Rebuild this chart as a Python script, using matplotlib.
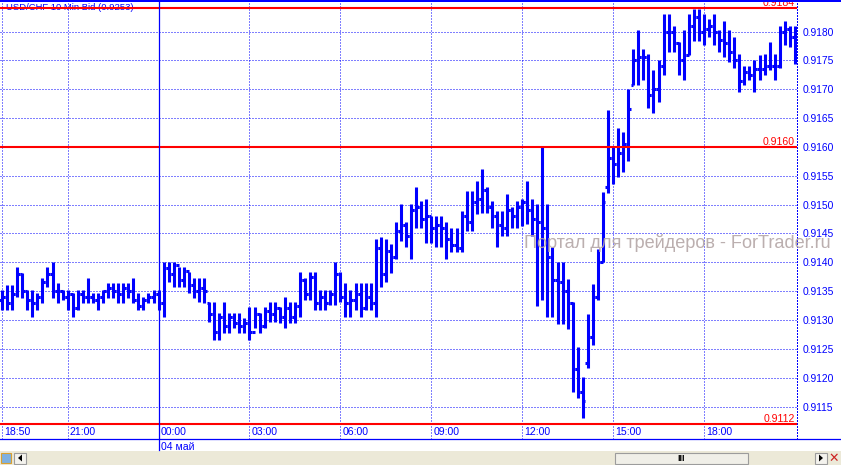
import matplotlib
matplotlib.use("Agg")
import matplotlib.pyplot as plt
from matplotlib.patches import Rectangle, Polygon
from matplotlib.lines import Line2D

plt.rcParams['font.family'] = ['Liberation Sans', 'DejaVu Sans']

# ---------------- data (10-minute OHLC bars, 18:50 .. 21:00 next day) -------------
opens = [
    0.91335, 0.91340, 0.91330, 0.91345, 0.91380, 0.91350, 0.91335, 0.91330, 0.91340, 0.91365,
    0.91380, 0.91350, 0.91350, 0.91340, 0.91345, 0.91320, 0.91345, 0.91340, 0.91340, 0.91335,
    0.91340, 0.91350, 0.91355, 0.91350, 0.91345, 0.91355, 0.91350, 0.91335, 0.91325, 0.91335,
    0.91340, 0.91345, 0.91330, 0.91390, 0.91380, 0.91395, 0.91370, 0.91385, 0.91360, 0.91350,
    0.91355, 0.91330, 0.91310, 0.91280, 0.91305, 0.91290, 0.91305, 0.91295, 0.91290, 0.91295,
    0.91280, 0.91310, 0.91290, 0.91315, 0.91310, 0.91320, 0.91305, 0.91320, 0.91305, 0.91325,
    0.91370, 0.91345, 0.91375, 0.91330, 0.91340, 0.91330, 0.91345, 0.91380, 0.91340, 0.91330,
    0.91335, 0.91345, 0.91320, 0.91340, 0.91330, 0.91425, 0.91380, 0.91420, 0.91410, 0.91455,
    0.91465, 0.91445, 0.91490, 0.91495, 0.91475, 0.91480, 0.91460, 0.91465, 0.91460, 0.91440,
    0.91430, 0.91425, 0.91480, 0.91470, 0.91505, 0.91510, 0.91525, 0.91495, 0.91480, 0.91465,
    0.91460, 0.91490, 0.91480, 0.91495, 0.91505, 0.91490, 0.91475, 0.91470, 0.91460, 0.91410,
    0.91370, 0.91365, 0.91350, 0.91330, 0.91215, 0.91175, 0.91225, 0.91270, 0.91340, 0.91400,
    0.91530, 0.91580, 0.91570, 0.91590, 0.91605, 0.91707, 0.91750, 0.91755, 0.91755, 0.91690,
    0.91700, 0.91740, 0.91800, 0.91800, 0.91780, 0.91750, 0.91760, 0.91810, 0.91825, 0.91800,
    0.91805, 0.91810, 0.91800, 0.91785, 0.91780, 0.91765, 0.91750, 0.91715, 0.91730, 0.91725,
    0.91735, 0.91735, 0.91740, 0.91740, 0.91740, 0.91800, 0.91805, 0.91790,
]
highs = [
    0.91352, 0.91361, 0.91361, 0.91392, 0.91381, 0.91352, 0.91352, 0.91346, 0.91372, 0.91392,
    0.91401, 0.91364, 0.91352, 0.91352, 0.91346, 0.91352, 0.91352, 0.91372, 0.91346, 0.91346,
    0.91352, 0.91364, 0.91364, 0.91364, 0.91364, 0.91364, 0.91372, 0.91346, 0.91340, 0.91346,
    0.91352, 0.91352, 0.91401, 0.91401, 0.91401, 0.91392, 0.91392, 0.91384, 0.91372, 0.91372,
    0.91372, 0.91332, 0.91332, 0.91312, 0.91332, 0.91312, 0.91312, 0.91312, 0.91303, 0.91323,
    0.91323, 0.91312, 0.91323, 0.91332, 0.91332, 0.91323, 0.91340, 0.91332, 0.91332, 0.91384,
    0.91372, 0.91384, 0.91384, 0.91352, 0.91352, 0.91352, 0.91401, 0.91384, 0.91364, 0.91352,
    0.91364, 0.91364, 0.91364, 0.91364, 0.91440, 0.91443, 0.91440, 0.91432, 0.91469, 0.91501,
    0.91469, 0.91501, 0.91530, 0.91507, 0.91510, 0.91481, 0.91481, 0.91481, 0.91469, 0.91460,
    0.91460, 0.91489, 0.91524, 0.91524, 0.91541, 0.91562, 0.91530, 0.91507, 0.91489, 0.91489,
    0.91518, 0.91495, 0.91507, 0.91510, 0.91541, 0.91510, 0.91501, 0.91602, 0.91501, 0.91426,
    0.91400, 0.91400, 0.91371, 0.91331, 0.91253, 0.91201, 0.91311, 0.91363, 0.91423, 0.91521,
    0.91664, 0.91600, 0.91632, 0.91625, 0.91701, 0.91770, 0.91802, 0.91770, 0.91761, 0.91733,
    0.91750, 0.91830, 0.91830, 0.91810, 0.91782, 0.91802, 0.91830, 0.91839, 0.91839, 0.91830,
    0.91822, 0.91830, 0.91802, 0.91819, 0.91802, 0.91790, 0.91761, 0.91741, 0.91741, 0.91750,
    0.91759, 0.91761, 0.91782, 0.91761, 0.91810, 0.91819, 0.91810, 0.91810,
]
lows = [
    0.91317, 0.91317, 0.91317, 0.91340, 0.91338, 0.91317, 0.91306, 0.91317, 0.91329, 0.91358,
    0.91338, 0.91329, 0.91335, 0.91317, 0.91306, 0.91317, 0.91329, 0.91329, 0.91329, 0.91317,
    0.91329, 0.91338, 0.91338, 0.91329, 0.91329, 0.91338, 0.91329, 0.91317, 0.91317, 0.91329,
    0.91329, 0.91317, 0.91306, 0.91366, 0.91358, 0.91358, 0.91358, 0.91346, 0.91338, 0.91332,
    0.91329, 0.91297, 0.91265, 0.91265, 0.91277, 0.91277, 0.91286, 0.91277, 0.91277, 0.91265,
    0.91286, 0.91277, 0.91286, 0.91297, 0.91297, 0.91294, 0.91286, 0.91294, 0.91294, 0.91306,
    0.91335, 0.91335, 0.91317, 0.91317, 0.91317, 0.91326, 0.91326, 0.91332, 0.91306, 0.91306,
    0.91317, 0.91306, 0.91317, 0.91317, 0.91306, 0.91358, 0.91366, 0.91381, 0.91405, 0.91437,
    0.91426, 0.91405, 0.91460, 0.91460, 0.91434, 0.91434, 0.91426, 0.91426, 0.91405, 0.91417,
    0.91417, 0.91417, 0.91455, 0.91455, 0.91484, 0.91486, 0.91486, 0.91460, 0.91426, 0.91446,
    0.91446, 0.91460, 0.91460, 0.91463, 0.91466, 0.91446, 0.91325, 0.91334, 0.91305, 0.91305,
    0.91293, 0.91293, 0.91285, 0.91175, 0.91164, 0.91130, 0.91216, 0.91256, 0.91334, 0.91400,
    0.91520, 0.91535, 0.91547, 0.91556, 0.91576, 0.91707, 0.91707, 0.91716, 0.91667, 0.91658,
    0.91678, 0.91724, 0.91764, 0.91764, 0.91724, 0.91716, 0.91759, 0.91784, 0.91784, 0.91776,
    0.91790, 0.91776, 0.91764, 0.91756, 0.91747, 0.91736, 0.91695, 0.91707, 0.91716, 0.91695,
    0.91716, 0.91724, 0.91733, 0.91716, 0.91736, 0.91776, 0.91773, 0.91744,
]
closes = [
    0.91340, 0.91330, 0.91345, 0.91380, 0.91350, 0.91335, 0.91330, 0.91340, 0.91365, 0.91380,
    0.91350, 0.91350, 0.91340, 0.91345, 0.91320, 0.91345, 0.91340, 0.91340, 0.91335, 0.91340,
    0.91350, 0.91355, 0.91350, 0.91345, 0.91355, 0.91350, 0.91335, 0.91325, 0.91335, 0.91340,
    0.91345, 0.91330, 0.91390, 0.91380, 0.91395, 0.91370, 0.91385, 0.91360, 0.91350, 0.91355,
    0.91350, 0.91310, 0.91280, 0.91305, 0.91290, 0.91305, 0.91295, 0.91290, 0.91295, 0.91280,
    0.91310, 0.91290, 0.91315, 0.91310, 0.91320, 0.91305, 0.91320, 0.91305, 0.91325, 0.91370,
    0.91345, 0.91375, 0.91330, 0.91340, 0.91330, 0.91345, 0.91380, 0.91340, 0.91330, 0.91335,
    0.91345, 0.91320, 0.91340, 0.91330, 0.91425, 0.91380, 0.91420, 0.91410, 0.91455, 0.91465,
    0.91445, 0.91490, 0.91495, 0.91475, 0.91480, 0.91460, 0.91465, 0.91460, 0.91440, 0.91430,
    0.91425, 0.91480, 0.91470, 0.91505, 0.91510, 0.91525, 0.91495, 0.91480, 0.91465, 0.91460,
    0.91490, 0.91480, 0.91495, 0.91505, 0.91490, 0.91475, 0.91470, 0.91460, 0.91410, 0.91370,
    0.91365, 0.91350, 0.91330, 0.91215, 0.91175, 0.91160, 0.91270, 0.91340, 0.91400, 0.91505,
    0.91580, 0.91570, 0.91590, 0.91605, 0.91665, 0.91750, 0.91755, 0.91755, 0.91690, 0.91700,
    0.91740, 0.91800, 0.91800, 0.91780, 0.91750, 0.91760, 0.91810, 0.91825, 0.91800, 0.91805,
    0.91810, 0.91800, 0.91785, 0.91780, 0.91765, 0.91750, 0.91715, 0.91730, 0.91725, 0.91735,
    0.91735, 0.91740, 0.91740, 0.91740, 0.91800, 0.91805, 0.91790, 0.91805,
]

price_ticks = [0.9115, 0.9120, 0.9125, 0.9130, 0.9135, 0.9140, 0.9145, 0.9150,
               0.9155, 0.9160, 0.9165, 0.9170, 0.9175, 0.9180]
price_tick_labels = ["0.9115", "0.9120", "0.9125", "0.9130", "0.9135", "0.9140", "0.9145",
                     "0.9150", "0.9155", "0.9160", "0.9165", "0.9170", "0.9175", "0.9180"]
time_labels = ["18:50", "21:00", "00:00", "03:00", "06:00", "09:00", "12:00", "15:00", "18:00"]
time_label_bars = [0, 13, 31, 49, 67, 85, 103, 121, 139]
day_separator_bar = 31
date_label = "04 май"
level_prices = [0.9184, 0.9160, 0.9112]
level_labels = ["0.9184", "0.9160", "0.9112"]
title = "USD/CHF 10 Min Bid (0.9253)"
watermark = "Портал для трейдеров - ForTrader.ru"

# ---------------- layout ----------------
W, H = 841, 465
BLUE = "#0000ff"
RED = "#ff0000"
fig = plt.figure(figsize=(W / 100, H / 100), dpi=100)
fig.patch.set_facecolor("white")

ax_left, ax_right, ax_top, ax_bottom = 0, 797, 2, 439
AW = ax_right - ax_left
AH = ax_bottom - ax_top
ax = fig.add_axes([ax_left / W, (H - ax_bottom) / H, AW / W, AH / H])
ax.set_facecolor("white")

bar_px = 5.05
first_px = 2.0
ax.set_xlim((ax_left - first_px) / bar_px, (ax_right - first_px) / bar_px)
# price <-> pixel: 0.9180 at y=31.5, 5.77 px per pip
ax.set_ylim(0.9180 - (ax_bottom - 31.5) / 57700.0, 0.9180 + (31.5 - ax_top) / 57700.0)

for s in ["left", "top", "bottom"]:
    ax.spines[s].set_visible(False)
ax.spines["right"].set_color(BLUE)
ax.spines["right"].set_linewidth(0.72)
ax.spines["right"].set_linestyle((0, (1, 2)))

# grid
dot = (0, (1, 2))
for p in price_ticks:
    ax.axhline(p, color=BLUE, lw=0.72, ls=dot, zorder=1)
for b in time_label_bars:
    if b != day_separator_bar:
        ax.axvline(b, color=BLUE, lw=0.72, ls=dot, zorder=1)

# OHLC bars
n = len(opens)
xs = list(range(n))
ax.vlines(xs, lows, highs, color=BLUE, lw=2.2, zorder=3, capstyle="butt")
ax.hlines(opens, [x - 0.5 for x in xs], xs, color=BLUE, lw=2.2, zorder=3, capstyle="butt")
ax.hlines(closes, xs, [x + 0.5 for x in xs], color=BLUE, lw=2.2, zorder=3, capstyle="butt")

# title (under red line)
ax.text(6 / AW, (ax_bottom - 8) / AH, title,
        transform=ax.transAxes, color=BLUE, fontsize=6.8, va="center", ha="left", zorder=2)

# red level lines with labels
ytr = ax.get_yaxis_transform()
for p, lab in zip(level_prices, level_labels):
    ax.axhline(p, color=RED, lw=1.5, zorder=4)
    ax.text(795 / AW, p + 0.000006, lab, transform=ytr, color=RED, fontsize=7.6,
            ha="right", va="bottom", zorder=4, clip_on=True)

# y tick labels on right
ax.yaxis.tick_right()
ax.set_yticks(price_ticks)
ax.set_yticklabels(price_tick_labels)
ax.tick_params(axis="y", length=0, pad=3.8, labelsize=7.4, labelcolor=BLUE)
ax.set_xticks([])

# time labels inside bottom strip
xtr = ax.get_xaxis_transform()
for b, lab in zip(time_label_bars, time_labels):
    ax.text(b + 0.45, (ax_bottom - 432) / AH, lab, transform=xtr,
            color=BLUE, fontsize=7.6, ha="left", va="center", zorder=5)

# watermark
ax.text(524 / AW, (ax_bottom - 243) / AH, watermark,
        transform=ax.transAxes, color="#b4a6a6", fontsize=13.1, ha="left", va="center",
        zorder=6, alpha=0.9)

# day separator (solid)
sep_x = (first_px + bar_px * day_separator_bar) / W
fig.add_artist(Line2D([sep_x, sep_x], [(H - 450) / H, (H - 2) / H], color=BLUE, lw=0.9,
                      transform=fig.transFigure))
fig.text(161 / W, (H - 447) / H, date_label, color=BLUE, fontsize=7.6, ha="left", va="center")

# top and bottom blue borders
fig.add_artist(Rectangle((0, (H - 2) / H), 1, 2 / H, transform=fig.transFigure,
                         facecolor=BLUE, edgecolor="none"))
fig.add_artist(Line2D([0, 1], [(H - ax_bottom) / H] * 2, color=BLUE, lw=0.9,
                      transform=fig.transFigure))

# scroll bar strip
GREY = "#ece9d8"
fig.add_artist(Rectangle((0, 0), 1, 14 / H, transform=fig.transFigure,
                         facecolor=GREY, edgecolor="none"))
fig.add_artist(Rectangle((615 / W, 1.5 / H), 133 / W, 11 / H, transform=fig.transFigure,
                         facecolor="#f0efe8", edgecolor="#9c9c9c", lw=0.8))
fig.text(681.5 / W, 7 / H, "III", fontsize=6.5, ha="center", va="center", weight="bold")
fig.add_artist(Rectangle((14 / W, 1.5 / H), 12 / W, 11 / H, transform=fig.transFigure,
                         facecolor="#f4f3ee", edgecolor="#9c9c9c", lw=0.8))
fig.add_artist(Polygon([[22 / W, 3.5 / H], [22 / W, 10.5 / H], [18 / W, 7 / H]],
                       closed=True, transform=fig.transFigure, facecolor="black"))
fig.add_artist(Rectangle((815 / W, 1.5 / H), 12 / W, 11 / H, transform=fig.transFigure,
                         facecolor="#f4f3ee", edgecolor="#9c9c9c", lw=0.8))
fig.add_artist(Polygon([[819 / W, 3.5 / H], [819 / W, 10.5 / H], [823 / W, 7 / H]],
                       closed=True, transform=fig.transFigure, facecolor="black"))
fig.text(834 / W, 7 / H, "✕", color="#cc2222", fontsize=9, ha="center", va="center",
         family=["DejaVu Sans"])
fig.add_artist(Rectangle((1 / W, 2 / H), 10 / W, 10 / H, transform=fig.transFigure,
                         facecolor="#7fb0e0", edgecolor="#d9a030", lw=0.8))

fig.savefig("out.png", dpi=100, facecolor="white")
